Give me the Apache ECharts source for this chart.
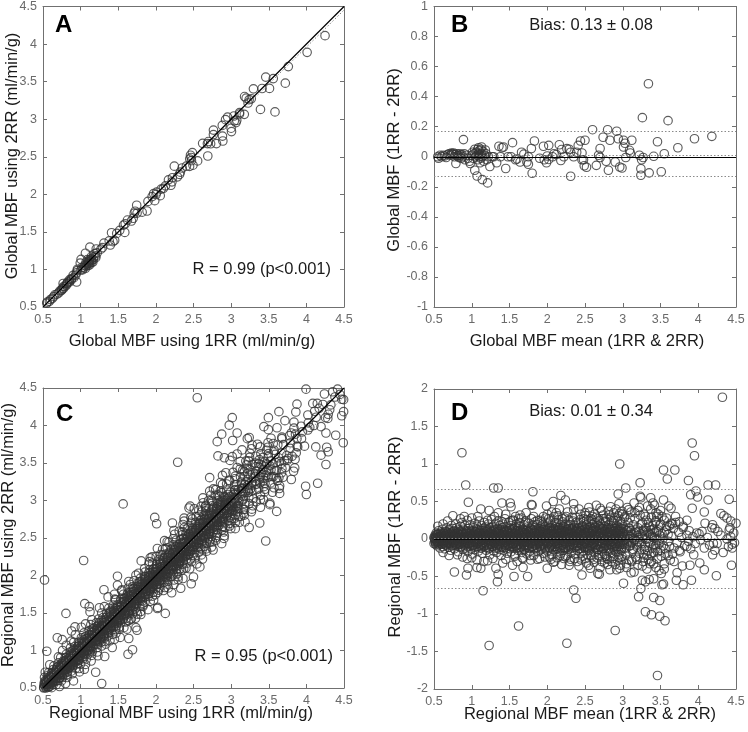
<!DOCTYPE html>
<html><head><meta charset="utf-8">
<script src="https://cdn.jsdelivr.net/npm/echarts@6/dist/echarts.min.js"></script>
<style>html,body{margin:0;padding:0;background:#fff}#c{width:748px;height:732px}</style>
</head><body><div id="c"></div>
<script>
// ---------- DATA ----------
// Tick labels
const mbfTicks = [0.5, 1, 1.5, 2, 2.5, 3, 3.5, 4, 4.5];
const globalDiffTicks = [-1, -0.8, -0.6, -0.4, -0.2, 0, 0.2, 0.4, 0.6, 0.8, 1];
const regionalDiffTicks = [-2, -1.5, -1, -0.5, 0, 0.5, 1, 1.5, 2];

// Global MBF: [mean(1RR&2RR), 1RR-2RR]
const globalPairs = [
[0.55,0.0],[0.56,-0.01],[0.58,0.01],[0.60,0.0],[0.62,0.01],[0.64,0.005],[0.66,-0.005],[0.68,0.015],[0.70,0.02],[0.72,0.01],
[0.73,0.025],[0.74,0.02],[0.75,0.015],[0.76,0.025],[0.77,0.0],[0.78,0.015],[0.79,-0.045],[0.80,0.02],[0.81,0.005],[0.82,0.01],
[0.83,-0.005],[0.84,0.02],[0.85,0.01],[0.86,-0.01],[0.87,0.015],[0.88,0.0],[0.89,0.114],[0.90,0.02],[0.91,-0.02],[0.93,0.01],
[0.95,-0.01],[0.97,-0.03],[0.98,-0.045],[1.00,0.01],[1.01,0.03],[1.02,-0.01],[1.03,0.02],[1.04,0.05],[1.04,-0.09],[1.05,0.0],
[1.06,0.03],[1.07,0.01],[1.07,-0.128],[1.08,0.05],[1.08,-0.02],[1.09,0.02],[1.09,0.06],[1.10,0.04],[1.10,0.0],[1.11,-0.04],
[1.11,0.015],[1.12,0.05],[1.12,-0.01],[1.13,0.02],[1.13,0.065],[1.14,-0.152],[1.14,0.0],[1.15,0.035],[1.16,-0.03],[1.17,0.01],
[1.18,0.045],[1.19,0.02],[1.20,-0.02],[1.21,-0.174],[1.22,0.0],[1.24,-0.065],[1.27,0.0],[1.29,0.0],[1.33,-0.04],[1.36,0.07],
[1.38,0.0],[1.40,0.06],[1.42,0.065],[1.45,-0.078],[1.48,0.0],[1.52,0.0],[1.54,0.094],[1.58,-0.02],[1.60,-0.015],[1.64,-0.035],
[1.66,0.03],[1.69,0.017],[1.73,-0.035],[1.75,0.0],[1.75,-0.05],[1.79,0.055],[1.80,-0.11],[1.83,0.105],[1.90,-0.01],[1.95,0.07],
[1.96,-0.02],[1.99,-0.04],[2.00,0.005],[2.02,0.076],[2.02,-0.018],[2.07,0.0],[2.09,0.02],[2.12,0.015],[2.16,0.08],[2.18,-0.025],
[2.19,0.048],[2.22,0.0],[2.26,0.054],[2.29,0.05],[2.31,0.03],[2.31,-0.13],[2.35,0.0],[2.39,0.03],[2.41,0.076],[2.44,0.105],
[2.46,-0.02],[2.46,0.025],[2.48,-0.02],[2.49,-0.06],[2.50,0.11],[2.52,-0.07],[2.60,0.18],[2.65,-0.057],[2.68,0.01],[2.70,-0.005],
[2.70,0.055],[2.74,0.13],[2.78,-0.03],[2.80,0.18],[2.81,-0.09],[2.83,0.11],[2.90,-0.035],[2.92,0.17],[2.94,0.12],[2.96,-0.068],
[2.99,-0.075],[3.01,0.11],[3.01,0.065],[3.03,0.09],[3.04,-0.005],[3.09,0.043],[3.10,0.025],[3.12,0.11],[3.22,0.01],[3.24,-0.08],
[3.24,-0.123],[3.25,-0.02],[3.26,0.26],[3.27,-0.005],[3.34,0.486],[3.35,-0.107],[3.41,0.003],[3.46,0.10],[3.51,-0.10],[3.55,0.02],
[3.60,0.24],[3.73,0.06],[3.95,0.12],[4.18,0.136]
];

// Regional MBF, dense band: [mean(1RR&2RR), 1RR-2RR]
const regionalCore = [
[0.50,0.02],[0.50,-0.06],[0.51,0.0],[0.52,0.04],[0.52,-0.05],[0.53,0.08],[0.53,-0.02],[0.54,0.02],[0.54,-0.09],[0.55,0.06],[0.55,-0.04],[0.56,0.11],[0.56,0.0],
[0.57,-0.07],[0.58,0.03],[0.58,-0.12],[0.59,0.09],[0.59,-0.01],[0.60,0.05],[0.60,-0.06],[0.61,0.13],[0.61,-0.03],[0.62,0.01],[0.62,-0.10],
[0.63,0.07],[0.63,-0.05],[0.64,0.02],[0.64,-0.13],[0.65,0.10],[0.65,-0.02],[0.66,0.04],[0.66,-0.08],[0.67,0.15],[0.67,0.0],[0.68,-0.04],[0.68,0.08],
[0.69,-0.11],[0.70,0.03],[0.70,0.12],[0.71,-0.06],[0.71,0.06],[0.72,-0.01],[0.72,-0.15],[0.73,0.09],[0.73,0.18],[0.74,-0.03],[0.74,-0.09],[0.75,0.04],[0.75,0.14],
[0.76,-0.05],[0.76,0.01],[0.77,0.11],[0.77,-0.13],[0.78,0.06],[0.78,-0.02],[0.79,0.20],[0.79,-0.08],[0.80,0.03],[0.80,0.15],[0.81,-0.04],[0.81,0.08],[0.82,-0.17],[0.82,0.0],
[0.83,0.12],[0.83,-0.07],[0.84,0.05],[0.84,-0.01],[0.85,0.17],[0.85,-0.11],[0.86,0.02],[0.86,0.09],[0.87,-0.05],[0.87,0.22],[0.88,-0.14],[0.88,0.06],[0.89,0.0],[0.89,0.13],[0.90,-0.08],[0.90,0.04],
[0.91,-0.02],[0.91,0.18],[0.92,0.08],[0.92,-0.12],[0.93,0.01],[0.93,0.11],[0.94,-0.06],[0.94,0.25],[0.95,0.04],[0.95,-0.17],[0.96,0.14],[0.96,-0.03],[0.97,0.07],[0.97,-0.09],[0.98,0.0],[0.98,0.19],[0.99,-0.13],[0.99,0.05],[1.00,0.10],[1.00,-0.05],
[1.01,0.02],[1.01,-0.20],[1.02,0.15],[1.02,-0.08],[1.03,0.06],[1.03,-0.01],[1.04,0.21],[1.04,-0.14],[1.05,0.09],[1.05,-0.04],[1.06,0.01],[1.06,0.13],[1.07,-0.10],[1.07,0.17],[1.08,0.04],[1.08,-0.06],[1.09,-0.16],[1.09,0.08],[1.10,0.0],[1.10,0.24],
[1.11,-0.03],[1.11,0.11],[1.12,-0.12],[1.12,0.05],[1.13,0.18],[1.13,-0.07],[1.14,0.02],[1.14,-0.19],[1.15,0.14],[1.15,-0.01],[1.16,0.07],[1.16,-0.10],[1.17,0.22],[1.17,0.03],[1.18,-0.05],[1.18,0.10],[1.19,-0.15],[1.19,0.16],[1.20,0.0],[1.20,-0.08],
[1.21,0.12],[1.21,0.05],[1.22,-0.13],[1.22,0.20],[1.23,-0.02],[1.23,0.08],[1.24,-0.21],[1.24,0.15],[1.25,0.02],[1.25,-0.07],[1.26,0.26],[1.26,0.10],[1.27,-0.10],[1.27,-0.03],[1.28,0.06],[1.28,0.17],[1.29,-0.16],[1.29,0.01],[1.30,0.13],[1.30,-0.05],
[1.31,0.04],[1.31,-0.12],[1.32,0.21],[1.32,-0.01],[1.33,0.09],[1.33,-0.18],[1.34,0.14],[1.34,-0.06],[1.35,0.0],[1.35,0.24],[1.36,-0.09],[1.36,0.07],[1.37,0.18],[1.37,-0.14],[1.38,0.03],[1.38,-0.03],[1.39,0.11],[1.39,-0.22],[1.40,0.15],[1.40,0.05],
[1.41,-0.07],[1.41,0.20],[1.42,0.02],[1.42,-0.15],[1.43,0.10],[1.43,-0.02],[1.44,0.27],[1.44,0.06],[1.45,-0.11],[1.45,0.16],[1.46,-0.04],[1.46,0.01],[1.47,0.12],[1.47,-0.19],[1.48,0.08],[1.48,-0.08],[1.49,0.22],[1.49,0.0],[1.50,-0.13],[1.50,0.14],
[1.51,0.04],[1.51,-0.05],[1.52,0.18],[1.52,-0.17],[1.53,0.09],[1.53,-0.01],[1.54,0.13],[1.54,-0.10],[1.55,0.02],[1.55,0.25],[1.56,-0.06],[1.56,0.07],[1.57,-0.21],[1.57,0.16],[1.58,0.0],[1.58,0.11],[1.59,-0.12],[1.59,0.20],[1.60,0.05],[1.60,-0.03],
[1.61,0.14],[1.61,-0.15],[1.62,0.08],[1.62,-0.07],[1.63,0.22],[1.63,0.01],[1.64,-0.11],[1.64,0.17],[1.65,0.04],[1.65,-0.02],[1.66,0.28],[1.66,-0.18],[1.67,0.10],[1.67,-0.05],[1.68,0.13],[1.68,0.0],[1.69,-0.09],[1.69,0.19],[1.70,0.06],[1.70,-0.14],
[1.71,0.02],[1.71,0.24],[1.72,-0.04],[1.72,0.11],[1.73,-0.20],[1.73,0.07],[1.74,0.16],[1.74,-0.08],[1.75,0.0],[1.75,0.21],[1.76,-0.12],[1.76,0.09],[1.77,0.03],[1.77,-0.16],[1.78,0.14],[1.78,-0.01],[1.79,0.27],[1.79,0.05],[1.80,-0.06],[1.80,0.12],
[1.81,-0.10],[1.81,0.18],[1.82,0.01],[1.82,-0.22],[1.83,0.08],[1.83,0.15],[1.84,-0.03],[1.84,0.23],[1.85,-0.13],[1.85,0.04],[1.86,0.11],[1.86,-0.07],[1.87,0.19],[1.87,0.0],[1.88,-0.17],[1.88,0.07],[1.89,0.14],[1.89,-0.04],[1.90,0.25],[1.90,0.02],
[1.91,-0.09],[1.91,0.10],[1.92,0.17],[1.92,-0.14],[1.93,0.03],[1.93,-0.02],[1.94,0.21],[1.94,0.06],[1.95,-0.19],[1.95,0.13],[1.96,0.0],[1.96,-0.07],[1.97,0.16],[1.97,0.09],[1.98,-0.11],[1.98,0.28],[1.99,0.04],[1.99,-0.03],[2.00,0.12],[2.00,-0.16],
[2.01,0.07],[2.01,0.20],[2.02,-0.05],[2.02,0.01],[2.03,0.15],[2.03,-0.12],[2.04,0.24],[2.04,0.03],[2.05,-0.08],[2.05,0.11],[2.06,0.18],[2.06,-0.21],[2.07,0.05],[2.07,-0.01],[2.08,0.14],[2.08,-0.14],[2.09,0.09],[2.09,0.30],[2.10,-0.04],[2.10,0.02],
[2.11,0.17],[2.11,-0.10],[2.12,0.06],[2.12,0.22],[2.13,-0.17],[2.13,0.0],[2.14,0.12],[2.14,-0.06],[2.15,0.26],[2.15,0.04],[2.16,-0.13],[2.16,0.15],[2.17,0.08],[2.17,-0.02],[2.18,0.19],[2.18,-0.19],[2.19,0.01],[2.19,0.11],[2.20,-0.08],[2.20,0.23],
[2.21,0.05],[2.21,-0.15],[2.22,0.16],[2.22,-0.03],[2.23,0.10],[2.23,0.28],[2.24,-0.11],[2.24,0.02],[2.25,0.20],[2.25,-0.06],[2.26,0.13],[2.26,-0.22],[2.27,0.07],[2.27,-0.01],[2.28,0.17],[2.28,-0.14],[2.29,0.03],[2.29,0.25],[2.30,-0.09],[2.30,0.11],
[2.31,-0.04],[2.31,0.19],[2.32,0.08],[2.32,-0.18],[2.33,0.14],[2.33,0.0],[2.34,-0.07],[2.34,0.24],[2.35,0.05],[2.35,-0.12],[2.36,0.16],[2.36,-0.02],[2.37,0.10],[2.37,-0.20],[2.38,0.29],[2.38,0.03],[2.39,-0.09],[2.39,0.13],[2.40,0.07],[2.40,-0.15],
[2.41,0.21],[2.41,-0.05],[2.42,0.01],[2.42,0.15],[2.43,-0.13],[2.43,0.09],[2.44,0.26],[2.44,-0.01],[2.45,-0.19],[2.45,0.12],[2.46,0.04],[2.46,-0.08],[2.47,0.18],[2.47,0.06],[2.48,-0.16],[2.48,0.23],[2.49,0.0],[2.49,-0.04],[2.50,0.14],[2.50,-0.11],
[2.51,0.08],[2.51,0.31],[2.52,-0.06],[2.52,0.19],[2.53,-0.21],[2.53,0.03],[2.54,0.12],[2.54,-0.12],[2.55,0.24],[2.55,-0.02],[2.56,0.07],[2.56,-0.15],[2.57,0.16],[2.57,0.0],[2.58,-0.09],[2.58,0.27],[2.59,0.10],[2.59,-0.24],[2.60,0.04],[2.60,0.20],
[2.61,-0.05],[2.61,0.13],[2.62,-0.18],[2.62,0.06],[2.63,0.22],[2.63,-0.01],[2.64,-0.11],[2.64,0.16],[2.65,0.02],[2.65,0.29],[2.66,-0.14],[2.66,0.09],[2.67,-0.07],[2.67,0.18],[2.68,0.05],[2.68,-0.22],[2.69,0.12],[2.69,0.25],[2.70,-0.03],[2.70,-0.10],
[2.71,0.08],[2.71,0.20],[2.72,-0.16],[2.72,0.01],[2.73,0.14],[2.73,-0.06],[2.74,0.27],[2.74,0.04],[2.75,-0.12],[2.75,0.17],[2.76,-0.20],[2.76,0.10],[2.77,0.0],[2.77,0.23],[2.78,-0.08],[2.78,0.06],[2.79,0.15],[2.79,-0.26],[2.80,0.03],[2.80,-0.02],
[2.81,0.19],[2.81,-0.13],[2.82,0.09],[2.82,0.32],[2.83,-0.05],[2.83,0.13],[2.84,-0.18],[2.84,0.02],[2.85,0.24],[2.85,-0.09],[2.86,0.06],[2.86,0.16],[2.87,-0.23],[2.87,-0.01],[2.88,0.11],[2.88,0.21],[2.89,-0.14],[2.89,0.04],[2.90,0.28],[2.90,-0.06],
[2.91,0.08],[2.91,-0.17],[2.92,0.18],[2.92,0.0],[2.93,-0.10],[2.93,0.25],[2.94,0.12],[2.94,-0.03],[2.95,-0.21],[2.95,0.05],[2.96,0.15],[2.96,0.34],[2.97,-0.07],[2.97,0.10],[2.98,0.02],[2.98,-0.15],[2.99,0.20],[2.99,-0.27],[3.00,0.07],[3.00,-0.01],
[3.01,0.16],[3.02,-0.12],[3.03,0.30],[3.03,0.03],[3.04,-0.20],[3.05,0.11],[3.06,-0.05],[3.07,0.22],[3.08,0.0],[3.08,-0.28],[3.09,0.14],[3.10,-0.09],[3.11,0.36],[3.12,0.06],[3.13,-0.16],[3.14,0.19],[3.15,-0.02],[3.16,0.27],[3.17,-0.24],[3.18,0.09],
[3.19,-0.11],[3.20,0.15],[3.21,0.02],[3.22,-0.19],[3.23,0.32],[3.24,0.07],[3.25,-0.06],[3.26,0.21],[3.27,-0.30],[3.28,0.12],[3.29,-0.14],[3.30,0.0],[3.31,0.25],[3.32,-0.22],[3.33,0.09],[3.34,-0.04],[3.35,0.17],[3.36,-0.33],[3.37,0.05],[3.38,0.29],
[3.39,-0.12],[3.40,0.13],[3.41,-0.18],[3.42,0.01],[3.43,0.22],[3.44,-0.08],[3.45,0.10],[3.46,-0.26],[3.47,0.33],[3.48,-0.02],[3.49,0.18],[3.50,-0.15],
[3.52,0.07],[3.54,-0.09],[3.55,0.25],[3.57,-0.20],[3.58,0.12],[3.60,-0.03],[3.62,0.18],[3.63,-0.28],[3.65,0.04],[3.67,0.14],[3.68,-0.12],[3.70,0.22],[3.72,-0.05],[3.74,0.09],[3.76,-0.17],[3.78,0.02],[3.80,0.17],[3.82,-0.09],[3.85,0.05],[3.87,-0.03],
[3.88,0.11],[3.90,-0.13],[3.93,0.03],[3.96,-0.06],[3.98,0.08],[4.05,0.10],[4.08,-0.12],[4.12,0.02],[4.15,-0.08],[4.18,0.15],[4.22,-0.15],[4.26,0.10],[4.30,0.05],[4.33,-0.18],[4.38,0.0],[4.40,-0.10],[4.42,0.15],[4.45,-0.12],[4.47,0.08],[4.48,-0.05]
];

// Regional MBF, darkest centre of the band: [mean, diff]
const regionalCentre = [
[0.505,0.01],[0.51,-0.03],[0.515,0.05],[0.52,-0.07],[0.525,0.0],[0.53,0.03],[0.535,-0.04],[0.54,0.06],[0.545,-0.01],[0.55,-0.06],[0.555,0.02],[0.56,0.07],[0.565,-0.03],[0.57,0.0],[0.575,0.04],[0.58,-0.05],[0.585,0.01],[0.59,-0.02],[0.595,0.06],[0.60,-0.04],
[0.605,0.02],[0.61,-0.07],[0.615,0.04],[0.62,0.0],[0.625,-0.03],[0.63,0.08],[0.635,-0.05],[0.64,0.01],[0.645,0.05],[0.65,-0.01],[0.655,-0.08],[0.66,0.03],[0.665,0.06],[0.67,-0.04],[0.675,0.0],[0.68,0.09],[0.685,-0.06],[0.69,0.02],[0.695,-0.02],[0.70,0.05],
[0.705,-0.07],[0.71,0.01],[0.715,0.08],[0.72,-0.03],[0.725,0.04],[0.73,-0.09],[0.735,0.0],[0.74,0.06],[0.745,-0.05],[0.75,0.02],[0.755,0.1],[0.76,-0.01],[0.765,-0.08],[0.77,0.05],[0.775,0.03],[0.78,-0.04],[0.785,0.07],[0.79,-0.02],[0.795,0.0],[0.80,-0.06],
[0.805,0.04],[0.81,-0.09],[0.815,0.08],[0.82,0.01],[0.825,-0.04],[0.83,0.06],[0.835,-0.07],[0.84,0.02],[0.845,0.1],[0.85,-0.02],[0.855,0.05],[0.86,-0.1],[0.865,0.0],[0.87,0.07],[0.875,-0.05],[0.88,0.03],[0.885,-0.01],[0.89,0.09],[0.895,-0.06],[0.90,0.01],
[0.905,-0.03],[0.91,0.06],[0.915,-0.08],[0.92,0.03],[0.925,0.1],[0.93,-0.04],[0.935,0.0],[0.94,0.07],[0.945,-0.1],[0.95,0.02],[0.955,-0.02],[0.96,0.05],[0.965,-0.06],[0.97,0.11],[0.975,0.01],[0.98,-0.05],[0.985,0.04],[0.99,-0.08],[0.995,0.08],[1.0,0.0],
[1.005,0.06],[1.01,-0.09],[1.015,0.02],[1.02,0.11],[1.025,-0.04],[1.03,0.0],[1.035,0.08],[1.04,-0.11],[1.045,0.04],[1.05,-0.02],[1.055,0.1],[1.06,-0.07],[1.065,0.01],[1.07,0.05],[1.075,-0.05],[1.08,0.12],[1.085,-0.01],[1.09,0.03],[1.095,-0.1],[1.1,0.07],
[1.105,-0.03],[1.11,0.09],[1.115,-0.08],[1.12,0.02],[1.125,0.05],[1.13,-0.12],[1.135,0.0],[1.14,0.11],[1.145,-0.05],[1.15,0.04],[1.155,-0.01],[1.16,0.08],[1.165,-0.09],[1.17,0.01],[1.175,0.06],[1.18,-0.06],[1.185,0.13],[1.19,-0.02],[1.195,0.03],[1.2,-0.11],
[1.205,0.05],[1.21,-0.04],[1.215,0.1],[1.22,0.0],[1.225,-0.08],[1.23,0.07],[1.235,-0.12],[1.24,0.03],[1.245,0.12],[1.25,-0.02],[1.255,0.06],[1.26,-0.07],[1.265,0.01],[1.27,0.09],[1.275,-0.05],[1.28,0.04],[1.285,-0.1],[1.29,0.11],[1.295,-0.01],[1.3,0.02],
[1.305,-0.06],[1.31,0.08],[1.315,-0.03],[1.32,0.12],[1.325,0.0],[1.33,-0.09],[1.335,0.05],[1.34,-0.12],[1.345,0.03],[1.35,0.1],[1.355,-0.04],[1.36,0.01],[1.365,0.07],[1.37,-0.07],[1.375,0.13],[1.38,-0.01],[1.385,0.04],[1.39,-0.1],[1.395,0.06],[1.4,-0.03],
[1.405,0.09],[1.41,0.0],[1.415,-0.11],[1.42,0.05],[1.425,0.12],[1.43,-0.05],[1.435,0.02],[1.44,-0.08],[1.445,0.08],[1.45,-0.02],[1.455,0.11],[1.46,-0.13],[1.465,0.03],[1.47,0.06],[1.475,-0.06],[1.48,0.0],[1.485,0.1],[1.49,-0.09],[1.495,0.04],[1.5,-0.01],
[1.505,0.07],[1.51,-0.1],[1.515,0.01],[1.52,0.12],[1.525,-0.04],[1.53,0.04],[1.535,-0.07],[1.54,0.09],[1.545,-0.01],[1.55,-0.12],[1.555,0.06],[1.56,0.02],[1.565,0.13],[1.57,-0.05],[1.575,0.0],[1.58,0.08],[1.585,-0.09],[1.59,0.03],[1.595,0.11],[1.6,-0.03],
[1.605,0.05],[1.61,-0.08],[1.615,0.1],[1.62,-0.02],[1.625,0.02],[1.63,-0.12],[1.635,0.07],[1.64,0.0],[1.645,0.12],[1.65,-0.06],[1.655,0.04],[1.66,-0.1],[1.665,0.09],[1.67,-0.03],[1.675,0.01],[1.68,0.06],[1.685,-0.13],[1.69,0.11],[1.695,-0.05],[1.7,0.03],
[1.705,-0.08],[1.71,0.08],[1.715,0.0],[1.72,-0.11],[1.725,0.05],[1.73,0.13],[1.735,-0.04],[1.74,0.02],[1.745,-0.09],[1.75,0.1],[1.755,-0.01],[1.76,0.06],[1.765,-0.12],[1.77,0.04],[1.775,0.11],[1.78,-0.06],[1.785,0.01],[1.79,0.08],[1.795,-0.03],[1.8,-0.1],
[1.805,0.05],[1.81,0.12],[1.815,-0.05],[1.82,0.02],[1.825,-0.13],[1.83,0.09],[1.835,0.0],[1.84,-0.08],[1.845,0.07],[1.85,-0.02],[1.855,0.13],[1.86,-0.11],[1.865,0.03],[1.87,0.06],[1.875,-0.04],[1.88,0.1],[1.885,-0.07],[1.89,0.01],[1.895,0.04],[1.9,-0.1],
[1.905,0.11],[1.91,-0.03],[1.915,0.06],[1.92,-0.12],[1.925,0.02],[1.93,0.09],[1.935,-0.06],[1.94,0.0],[1.945,0.13],[1.95,-0.09],[1.955,0.04],[1.96,0.08],[1.965,-0.02],[1.97,-0.13],[1.975,0.05],[1.98,0.12],[1.985,-0.05],[1.99,0.01],[1.995,0.07],[2.0,-0.08],
[2.005,0.03],[2.01,0.14],[2.015,-0.06],[2.02,0.08],[2.025,-0.11],[2.03,0.01],[2.035,0.11],[2.04,-0.03],[2.045,0.06],[2.05,-0.09],[2.055,0.15],[2.06,0.0],[2.065,-0.12],[2.07,0.1],[2.075,0.04],[2.08,-0.05],[2.085,0.12],[2.09,-0.01],[2.095,0.07],[2.1,-0.1],
[2.105,0.05],[2.11,0.13],[2.115,-0.07],[2.12,0.02],[2.125,-0.13],[2.13,0.09],[2.135,-0.02],[2.14,0.15],[2.145,0.04],[2.15,-0.1],[2.155,0.07],[2.16,0.0],[2.165,0.12],[2.17,-0.05],[2.175,0.1],[2.18,-0.12],[2.185,0.03],[2.19,0.08],[2.195,-0.08],[2.2,0.14],
[2.205,-0.03],[2.21,0.06],[2.215,-0.11],[2.22,0.11],[2.225,0.01],[2.23,-0.06],[2.235,0.15],[2.24,0.04],[2.245,-0.13],[2.25,0.08],[2.255,-0.01],[2.26,0.12],[2.265,-0.08],[2.27,0.02],[2.275,0.1],[2.28,-0.04],[2.285,0.06],[2.29,-0.1],[2.295,0.14],[2.3,0.0],
[2.305,-0.07],[2.31,0.09],[2.315,0.03],[2.32,-0.12],[2.325,0.13],[2.33,-0.02],[2.335,0.07],[2.34,-0.09],[2.345,0.01],[2.35,0.11],[2.355,-0.05],[2.36,0.15],[2.365,0.04],[2.37,-0.11],[2.375,0.08],[2.38,-0.01],[2.385,0.12],[2.39,-0.06],[2.395,0.02],[2.4,0.1],
[2.405,-0.09],[2.41,0.05],[2.415,0.14],[2.42,-0.04],[2.425,0.08],[2.43,-0.13],[2.435,0.0],[2.44,0.11],[2.445,-0.07],[2.45,0.03],[2.455,0.16],[2.46,-0.02],[2.465,0.07],[2.47,-0.1],[2.475,0.12],[2.48,0.01],[2.485,-0.06],[2.49,0.09],[2.495,-0.12],[2.5,0.05],
[2.505,0.13],[2.51,-0.03],[2.515,0.06],[2.52,-0.11],[2.525,0.1],[2.53,0.0],[2.535,-0.08],[2.54,0.15],[2.545,0.03],[2.55,-0.05],[2.555,0.09],[2.56,-0.13],[2.565,0.12],[2.57,0.01],[2.575,-0.09],[2.58,0.07],[2.585,-0.02],[2.59,0.14],[2.595,-0.06],[2.6,0.04],
[2.605,-0.1],[2.61,0.11],[2.615,0.02],[2.62,-0.07],[2.625,0.15],[2.63,-0.01],[2.635,0.08],[2.64,-0.12],[2.645,0.05],[2.65,0.13],[2.655,-0.04],[2.66,0.0],[2.665,-0.09],[2.67,0.1],[2.675,0.03],[2.68,-0.14],[2.685,0.07],[2.69,-0.02],[2.695,0.16],[2.7,-0.06],
[2.705,0.04],[2.71,-0.11],[2.715,0.12],[2.72,0.01],[2.725,-0.05],[2.73,0.09],[2.735,-0.13],[2.74,0.06],[2.745,0.14],[2.75,-0.02],[2.755,0.03],[2.76,-0.09],[2.765,0.11],[2.77,-0.06],[2.775,0.07],[2.78,0.0],[2.785,-0.12],[2.79,0.13],[2.795,0.02],[2.8,-0.04],
[2.805,0.09],[2.81,-0.08],[2.815,0.15],[2.82,-0.01],[2.825,0.05],[2.83,-0.14],[2.835,0.1],[2.84,0.02],[2.845,-0.07],[2.85,0.12],[2.855,-0.03],[2.86,0.07],[2.865,-0.11],[2.87,0.0],[2.875,0.14],[2.88,-0.05],[2.885,0.04],[2.89,-0.1],[2.895,0.11],[2.9,0.01],
[2.905,-0.08],[2.91,0.13],[2.915,0.03],[2.92,-0.12],[2.925,0.08],[2.93,-0.02],[2.935,0.16],[2.94,-0.06],[2.945,0.05],[2.95,0.1],[2.955,-0.1],[2.96,0.0],[2.965,0.12],[2.97,-0.04],[2.975,0.07],[2.98,-0.13],[2.985,0.02],[2.99,0.14],[2.995,-0.07],[3.0,0.04],
[3.01,0.09],[3.02,-0.07],[3.03,0.13],[3.04,0.0],[3.05,-0.12],[3.06,0.06],[3.07,-0.03],[3.08,0.15],[3.09,-0.09],[3.1,0.03],[3.11,0.11],[3.12,-0.05],[3.13,0.01],[3.14,-0.14],[3.15,0.08],[3.16,-0.01],[3.17,0.12],[3.18,-0.08],[3.19,0.05],[3.2,-0.03]
];

// Regional MBF, outer edges of the band: [mean, diff]
const regionalEdge = [
[1.52,0.24],[1.57,-0.23],[1.62,0.27],[1.67,-0.25],[1.72,0.22],[1.77,-0.22],[1.82,0.30],[1.87,-0.27],[1.92,0.23],[1.97,-0.24],
[2.02,0.27],[2.06,0.36],[2.10,0.22],[2.14,0.31],[2.20,0.27],[2.27,0.36],[2.33,0.29],[2.38,0.22],[2.44,0.33],[2.48,0.27],
[2.03,-0.24],[2.08,-0.31],[2.13,-0.25],[2.19,-0.34],[2.24,-0.23],[2.30,-0.30],[2.36,-0.26],[2.42,-0.36],[2.47,-0.23],
[2.52,0.26],[2.56,0.36],[2.60,0.25],[2.63,0.33],[2.67,0.27],[2.70,0.41],[2.74,0.32],[2.77,0.24],[2.81,0.37],[2.84,0.29],
[2.88,0.25],[2.91,0.40],[2.94,0.31],[2.97,0.24],[2.99,0.37],
[2.51,-0.26],[2.55,-0.35],[2.58,-0.22],[2.62,-0.31],[2.66,-0.25],[2.70,-0.38],[2.73,-0.24],[2.76,-0.32],[2.80,-0.27],[2.83,-0.41],
[2.87,-0.26],[2.90,-0.34],[2.93,-0.28],[2.96,-0.39],[2.99,-0.23],
[3.21,0.10],[3.22,-0.05],[3.24,0.19],[3.25,-0.14],[3.26,0.03],[3.27,0.11],[3.28,-0.21],[3.29,0.06],[3.30,-0.09],[3.31,0.15],
[3.32,0.0],[3.33,-0.16],[3.34,0.22],[3.35,0.07],[3.36,-0.06],[3.37,0.12],[3.38,-0.20],[3.39,0.03],[3.40,0.18],[3.41,-0.08],
[3.42,0.09],[3.43,-0.13],[3.44,0.24],[3.45,0.0],[3.46,-0.17],[3.47,0.12],[3.48,-0.07],[3.49,0.05],[3.50,0.20],[3.51,-0.23],
[3.53,0.0],[3.55,0.09],[3.56,-0.13],[3.58,0.17],[3.60,0.06],[3.62,-0.10],[3.64,0.21],[3.66,-0.20],
[3.02,0.28],[3.05,-0.38],[3.08,0.39],[3.12,-0.30],[3.16,0.35],[3.19,-0.27],[3.22,0.42],[3.26,-0.36],[3.30,0.30],[3.34,-0.27],
[3.37,0.40],[3.41,-0.33],[3.44,0.35],[3.48,-0.42],[3.52,0.30],[3.55,-0.40]
];

// Regional MBF, spread and outliers: [mean(1RR&2RR), 1RR-2RR]
const regionalSpread = [
[4.32,1.89],[3.92,1.28],[3.95,1.11],[0.87,1.15],[2.96,1.0],[3.54,0.92],[3.69,0.92],[3.59,0.80],[3.23,0.75],[3.87,0.78],
[4.13,0.72],[4.23,0.72],[0.92,0.72],[1.29,0.68],[1.35,0.68],[1.81,0.63],[3.04,0.68],[3.97,0.64],[3.90,0.59],[3.99,0.56],
[2.94,0.60],[4.41,0.53],[4.13,0.52],[0.955,0.49],[1.40,0.48],[1.51,0.48],[1.52,0.43],[1.79,0.46],[1.80,0.45],[1.99,0.44],
[2.08,0.50],[2.18,0.58],[2.24,0.52],[2.16,0.40],[2.35,0.47],[2.35,0.39],[1.12,0.40],[1.23,0.38],[1.35,0.35],[0.75,0.31],
[0.85,0.27],[1.64,0.32],[1.95,0.30],[1.87,0.25],[1.54,0.25],[1.40,0.23],[1.21,0.25],[3.92,0.41],[4.08,0.36],[4.30,0.34],
[4.34,0.31],[4.38,0.28],[4.43,0.24],[4.50,0.21],[3.23,0.57],[3.24,0.55],[3.37,0.55],[3.40,0.48],[3.54,0.52],[3.42,0.45],
[3.61,0.44],[3.64,0.41],[3.70,0.30],[3.75,0.23],[4.09,0.21],[4.19,0.19],[4.22,0.14],[4.41,0.12],[4.43,0.03],[4.45,-0.07],
[4.01,0.07],[4.03,-0.01],[4.20,-0.06],[4.25,-0.06],[4.44,-0.35],[4.24,-0.49],[4.19,-0.21],[4.02,-0.32],[4.08,-0.41],[3.94,-0.21],
[3.89,-0.35],[3.79,-0.36],[3.72,-0.45],[3.91,-0.55],[3.80,-0.61],[3.71,-0.55],[3.54,-0.60],[3.41,-0.53],[3.41,-0.78],[3.49,-0.82],
[3.21,-0.77],[3.24,-0.66],[3.30,-0.97],[3.38,-1.01],[3.49,-1.03],[3.56,-1.09],[2.90,-1.22],[3.46,-1.82],[2.26,-1.39],[1.62,-1.16],
[1.23,-1.42],[3.01,-0.59],[2.67,-0.46],[2.57,-0.39],[2.92,-0.41],[3.15,-0.44],[3.26,-0.55],[3.30,-0.57],[3.35,-0.54],[3.51,-0.46],
[3.52,-0.61],[0.77,-0.44],[0.93,-0.48],[0.95,-0.39],[1.07,-0.38],[1.12,-0.39],[1.15,-0.69],[1.35,-0.47],[1.34,-0.57],[1.32,-0.39],
[1.56,-0.50],[1.74,-0.50],[1.68,-0.38],[1.54,-0.35],[1.41,-0.32],[2.00,-0.39],[2.05,-0.27],[2.17,-0.22],[2.29,-0.35],[2.35,-0.68],
[2.38,-0.79],[2.46,-0.48],[2.31,-0.27],[0.94,-0.26],[1.07,-0.28],[1.21,-0.29],[0.81,-0.21],[1.68,-0.26],[2.80,-0.34],[2.97,-0.35],
[3.11,-0.45],[2.69,-0.47],
[2.50,0.35],[2.55,0.42],[2.60,0.30],[2.65,0.45],[2.72,0.38],[2.78,0.28],[2.84,0.43],[2.88,0.35],[2.95,0.47],[3.00,0.33],
[3.06,0.42],[3.10,0.28],[3.15,0.48],[3.20,0.38],[3.28,0.33],[3.33,0.44],[3.45,0.30],[3.50,0.38],[3.58,0.28],[3.66,0.20],
[3.80,0.15],[3.85,0.25],
[2.45,-0.28],[2.52,-0.32],[2.62,-0.27],[2.72,-0.30],[2.78,-0.23],[2.85,-0.30],[2.95,-0.25],[3.05,-0.33],[3.12,-0.28],[3.20,-0.35],
[3.28,-0.25],[3.32,-0.40],[3.38,-0.30],[3.44,-0.38],[3.55,-0.33],[3.60,-0.22],[3.68,-0.30],[3.75,-0.15],[3.85,-0.10],
[0.62,-0.18],[0.70,-0.22],[0.88,-0.24],[1.00,-0.25],[1.16,-0.30],[1.28,-0.26],[1.45,-0.27],[1.60,-0.30],[1.78,-0.28],[1.90,-0.26],
[2.10,-0.30],[2.22,-0.26],[2.40,-0.30],
[0.55,0.17],[0.62,0.20],[0.68,0.24],[0.90,0.30],[1.00,0.28],[1.08,0.30],[1.30,0.30],[1.45,0.33],[1.58,0.30],[1.72,0.35],
[2.00,0.33],[2.12,0.35],[2.25,0.30],[2.42,0.40]
];

// Bland-Altman lines: [upper limit, bias, lower limit]
const globalLimits = [0.165, 0.015, -0.134];
const regionalLimits = [0.67, 0.01, -0.65];
// Regression fits [slope, intercept]
const globalFit = [0.985, 0.02];
const regionalFit = [0.95, 0.1];

// ---------- CHART ----------
const F = '"Liberation Sans", Arial, Helvetica, sans-serif';
const AX = '#707070', LB = '#6a6a6a', TX = '#1a1a1a', PT = '#333333';
const regionalPairs = regionalCore.concat(regionalCentre, regionalEdge, regionalSpread);
const toRR = p => [p[0] + p[1] / 2, p[0] - p[1] / 2];
const fmt = v => String(Math.round(v * 100) / 100);

const grids = [
  {left: 43, top: 6, width: 301, height: 301},
  {left: 434, top: 6, width: 302, height: 301},
  {left: 43, top: 388, width: 301, height: 300},
  {left: 434, top: 389, width: 302, height: 300}
];
function axis(g, ticks, pos) {
  const isLabel = (pos === 'bottom' || pos === 'left');
  return {
    type: 'value', gridIndex: g, position: pos,
    min: ticks[0], max: ticks[ticks.length - 1],
    interval: Math.round((ticks[1] - ticks[0]) * 1000) / 1000,
    axisLine: {show: true, onZero: false, lineStyle: {color: AX, width: 1}},
    axisTick: {show: true, inside: true, length: 4, lineStyle: {color: AX}},
    axisLabel: {show: isLabel, color: LB, fontSize: 12.5, fontFamily: F, margin: 6, formatter: fmt,
                showMinLabel: true, showMaxLabel: true},
    splitLine: {show: false}
  };
}
const yTickSets = [mbfTicks, globalDiffTicks, mbfTicks, regionalDiffTicks];
const xAxis = [], yAxis = [];
for (let g = 0; g < 4; g++) {
  xAxis.push(axis(g, mbfTicks, 'bottom'), axis(g, mbfTicks, 'top'));
  yAxis.push(axis(g, yTickSets[g], 'left'), axis(g, yTickSets[g], 'right'));
}
const scatterStyle = {
  type: 'scatter', symbol: 'circle', symbolSize: 8.5, progressive: 0, large: false, silent: true,
  itemStyle: {color: 'rgba(0,0,0,0)', borderColor: PT, borderWidth: 1.15}
};
const lo = mbfTicks[0], hi = mbfTicks[mbfTicks.length - 1];
function identity(g) {
  return {type: 'line', xAxisIndex: 2 * g, yAxisIndex: 2 * g, data: [[lo, lo], [hi, hi]], symbol: 'none', silent: true,
          lineStyle: {color: '#000', width: 1.2}, z: 5};
}
function fitLine(g, fit) {
  return {type: 'line', xAxisIndex: 2 * g, yAxisIndex: 2 * g, symbol: 'none', silent: true,
          data: [[lo, fit[0] * lo + fit[1]], [hi, fit[0] * hi + fit[1]]],
          lineStyle: {color: '#888', width: 1, type: [1.5, 2]}, z: 4};
}
function baMarks(lim) {
  const dot = {color: '#8a8a8a', width: 1, type: [1.5, 2]};
  return {silent: true, symbol: ['none', 'none'], label: {show: false}, animation: false,
    data: [
      {yAxis: 0, lineStyle: {color: '#000', width: 1.2, type: 'solid'}},
      {yAxis: lim[0], lineStyle: dot}, {yAxis: lim[1], lineStyle: dot}, {yAxis: lim[2], lineStyle: dot}
    ]};
}
const series = [
  Object.assign({}, scatterStyle, {xAxisIndex: 0, yAxisIndex: 0, data: globalPairs.map(toRR)}),
  fitLine(0, globalFit), identity(0),
  Object.assign({}, scatterStyle, {xAxisIndex: 2, yAxisIndex: 2, data: globalPairs, markLine: baMarks(globalLimits)}),
  Object.assign({}, scatterStyle, {xAxisIndex: 4, yAxisIndex: 4, data: regionalPairs.map(toRR)}),
  fitLine(2, regionalFit), identity(2),
  Object.assign({}, scatterStyle, {xAxisIndex: 6, yAxisIndex: 6, data: regionalPairs, markLine: baMarks(regionalLimits)})
];

function txt(t, x, y, size, opts) {
  opts = opts || {};
  return {type: 'text', x: x, y: y, rotation: opts.rot || 0, silent: true, z: 100,
    style: {text: t, fill: opts.fill || TX, font: (opts.bold ? 'bold ' : '') + size + 'px ' + F,
            align: opts.align || 'center', verticalAlign: 'middle'}};
}
const R = Math.PI / 2;
const graphic = [
  txt('A', 55, 25, 24, {bold: true, align: 'left', fill: '#000'}),
  txt('B', 451, 25, 24, {bold: true, align: 'left', fill: '#000'}),
  txt('C', 56, 414, 24, {bold: true, align: 'left', fill: '#000'}),
  txt('D', 451, 413, 24, {bold: true, align: 'left', fill: '#000'}),
  txt('R = 0.99 (p<0.001)', 331, 269, 16.5, {align: 'right'}),
  txt('R = 0.95 (p<0.001)', 333, 656, 16.5, {align: 'right'}),
  txt('Bias: 0.13 \u00b1 0.08', 591, 25, 16.5),
  txt('Bias: 0.01 \u00b1 0.34', 591, 411, 16.5),
  txt('Global MBF using 1RR (ml/min/g)', 192, 341, 16.5),
  txt('Global MBF using 2RR (ml/min/g)', 12, 156, 16.5, {rot: R}),
  txt('Global MBF mean (1RR & 2RR)', 587, 341, 16.5),
  txt('Global MBF (1RR - 2RR)', 394, 160, 16.5, {rot: R}),
  txt('Regional MBF using 1RR (ml/min/g)', 181, 713, 16.5),
  txt('Regional MBF using 2RR (ml/min/g)', 8, 535, 16.5, {rot: R}),
  txt('Regional MBF mean (1RR & 2RR)', 590, 714, 16.5),
  txt('Regional MBF (1RR - 2RR)', 395, 537, 16.5, {rot: R})
];

const chart = echarts.init(document.getElementById('c'), null, {renderer: 'canvas'});
chart.setOption({animation: false, backgroundColor: '#fff', grid: grids, xAxis: xAxis, yAxis: yAxis, series: series, graphic: graphic});
</script></body></html>
